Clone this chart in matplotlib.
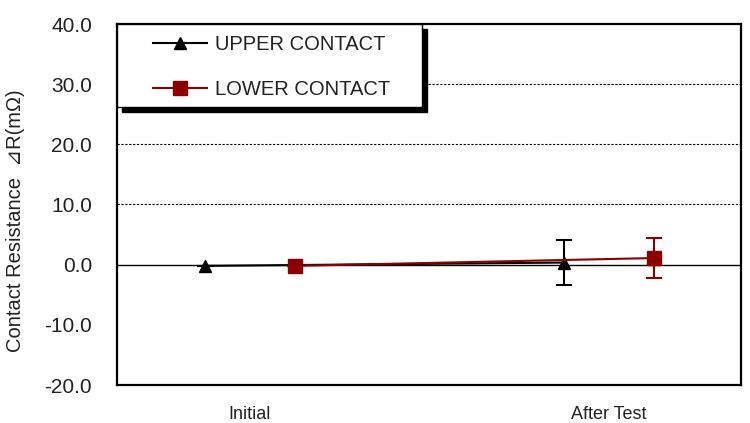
import numpy as np
import matplotlib.pyplot as plt
from matplotlib.patches import Rectangle

# contact resistance change, mOhm
stages = ['Initial', 'After Test']
upper_mean = [-0.2, 0.35]
upper_err = [0.0, 3.8]
lower_mean = [-0.2, 1.1]
lower_err = [0.0, 3.3]
yticks = [-20, -10, 0, 10, 20, 30, 40]

DARKRED = '#8B0000'
FONT = ['Liberation Sans', 'DejaVu Sans']
plt.rcParams['font.family'] = FONT

fig = plt.figure(figsize=(7.5, 4.23), dpi=100)
ax = fig.add_axes([117/750, 38/423, 624/750, 361/423])

x = np.arange(len(stages))
off = 0.125

eb1 = ax.errorbar(x - off, upper_mean, yerr=upper_err, color='black', marker='^',
                  markersize=9, lw=1.5, capsize=6, capthick=1.5, elinewidth=1.5,
                  label='UPPER CONTACT', zorder=3)
eb2 = ax.errorbar(x + off, lower_mean, yerr=lower_err, color=DARKRED, marker='s',
                  markersize=10, lw=1.5, capsize=6, capthick=1.5, elinewidth=1.5,
                  label='LOWER CONTACT', zorder=4)

ax.set_xlim(-0.37, 1.368)
ax.set_ylim(-20, 40)
ax.set_yticks(yticks)
ax.set_yticklabels(['%.1f' % v for v in yticks])
ax.set_xticks(x)
ax.set_xticklabels(stages)
ax.tick_params(axis='y', length=0, pad=18, labelsize=15, labelcolor='#222222')
ax.tick_params(axis='x', length=0, pad=15, labelsize=13, labelcolor='#222222')

# dashed grid, solid zero line
for v in [10, 20, 30]:
    ax.axhline(v, color='black', lw=0.8, ls=(0, (2, 1.5)), zorder=1)
ax.axhline(0, color='black', lw=1.0, zorder=1)

for s in ax.spines.values():
    s.set_linewidth(1.6)
    s.set_color('black')

ax.set_ylabel('Contact Resistance  \u22bfR(m\u03a9)', fontsize=14.5, color='#222222')
ax.yaxis.set_label_coords(-0.147, 0.455)

# legend box with solid shadow
bw, bh = 305/624, 83/361
ax.add_patch(Rectangle((5/624, 1 - bh - 5/361), bw, bh, transform=ax.transAxes,
                       facecolor='black', edgecolor='black', clip_on=False, zorder=5))
ax.add_patch(Rectangle((0, 1 - bh), bw, bh, transform=ax.transAxes,
                       facecolor='white', edgecolor='black', lw=1.0, clip_on=False, zorder=6))
leg = ax.legend(handles=[eb1.lines[0], eb2.lines[0]],
                labels=['UPPER CONTACT', 'LOWER CONTACT'],
                loc='upper left', bbox_to_anchor=(36/624, 1 - 11/361), frameon=False,
                borderpad=0, borderaxespad=0, handlelength=2.7, handletextpad=0.4,
                labelspacing=1.3, prop={'family': FONT, 'size': 14.5})
leg.set_zorder(7)
for t in leg.get_texts():
    t.set_color('#222222')

fig.savefig('out.png', dpi=100)
